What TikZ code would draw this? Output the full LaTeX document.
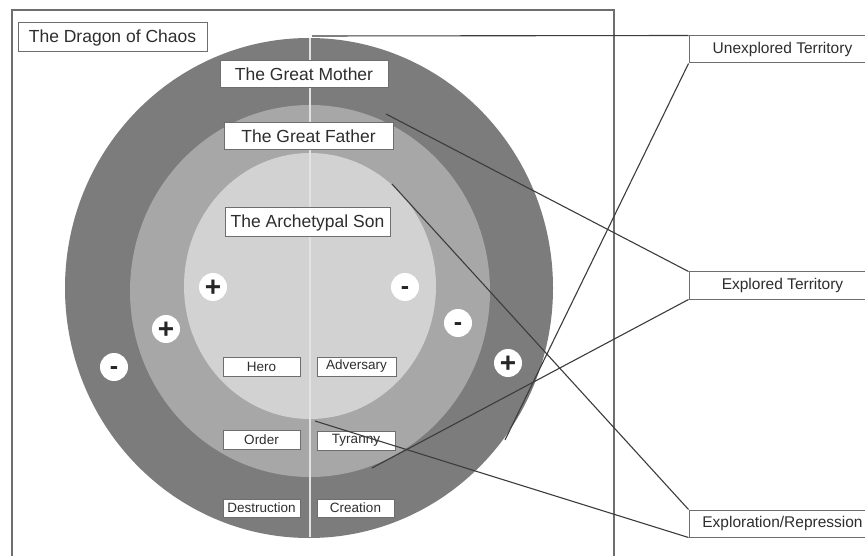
\documentclass[tikz,border=0pt]{standalone}
\usepackage{fontspec}
\setmainfont{Liberation Sans}
\definecolor{ringA}{HTML}{7C7C7C}
\definecolor{ringB}{HTML}{A7A7A7}
\definecolor{ringC}{HTML}{D2D2D2}
\definecolor{divider}{HTML}{E2E2E2}
\definecolor{framec}{HTML}{6E6E6E}
\definecolor{linec}{HTML}{3C3C3C}
\definecolor{txt}{HTML}{2E2E2E}
\tikzset{
  bigbox/.style={draw=framec, line width=1pt, fill=white, text=txt, inner sep=0pt, font=\fontsize{17.5}{20}\selectfont},
  smallbox/.style={draw=framec, line width=0.9pt, fill=white, text=txt, inner sep=0pt, minimum width=78pt, minimum height=19pt, font=\fontsize{13.5}{15}\selectfont},
  sidebox/.style={draw=framec, line width=1pt, fill=white, text=txt, inner sep=0pt, minimum width=187pt, minimum height=27pt, font=\fontsize{15.5}{18}\selectfont},
  sign/.style={circle, fill=white, inner sep=0pt, minimum size=28pt, text=black!85},
  signP/.style={sign, text height=18pt, text depth=0pt, font=\bfseries\fontsize{28}{28}\selectfont},
  signM/.style={sign, text height=14.5pt, text depth=0pt, font=\bfseries\fontsize{25}{25}\selectfont},
  conn/.style={draw=linec, line width=1.1pt}
}
\begin{document}
\begin{tikzpicture}[x=1pt,y=-1pt]
\useasboundingbox (0,0) rectangle (865,556);
\clip (0,0) rectangle (865,556);
\fill[white] (0,0) rectangle (865,556);
% frame
\draw[framec, line width=1.3pt] (12,560) -- (12,10) -- (614,10) -- (614,560);
% rings
\fill[ringA] (309,288) ellipse [x radius=244, y radius=250];
\fill[ringB] (310,291) ellipse [x radius=180, y radius=186];
\fill[ringC] (310,286) ellipse [x radius=126, y radius=133];
\draw[divider, line width=2.5pt] (310,38) -- (310,537);
% labels
\node[bigbox, minimum width=189pt, minimum height=29pt] (dragon) at (112.5,37.5) {The Dragon of Chaos};
\node[bigbox, minimum width=168pt, minimum height=27pt] (mother) at (304,74.5) {The Great Mother};
\node[bigbox, minimum width=169pt, minimum height=27pt] (father) at (308.5,136.5) {The Great Father};
\node[bigbox, minimum width=165pt, minimum height=29pt] (son) at (307.5,222.5) {The Archetypal Son};
\node[smallbox, minimum width=77pt] (hero) at (261.5,366.5) {Hero};
\node[smallbox, minimum width=79pt] (adversary) at (356.5,366.5) {Adversary};
\node[smallbox, minimum width=77pt] (order) at (261.5,440) {Order};
\node[smallbox] (tyranny) at (356,440.5) {Tyranny};
\node[smallbox, minimum width=77pt, minimum height=18pt] (destruction) at (261.5,508) {Destruction};
\node[smallbox, minimum width=77pt, minimum height=18pt] (creation) at (355.5,508) {Creation};
% signs
\node[signP] (s1) at (213,287) {+};
\node[signM] (s2) at (405,287) {-};
\node[signP] (s3) at (166,329) {+};
\node[signM] (s4) at (458,323) {-};
\node[signM] (s5) at (114,367) {-};
\node[signP] (s6) at (508,363) {+};
% side boxes
\node[sidebox] (unexplored) at (782.5,49.5) {Unexplored Territory};
\node[sidebox] (explored) at (782.5,285.5) {Explored Territory};
\node[sidebox] (exploration) at (782.5,523.5) {Exploration/Repression};
% connector endpoints
\coordinate (topV) at (312,36);
\coordinate (outerE) at (505,440);
\coordinate (fatherE) at (386,114);
\coordinate (tyrE) at (372,468);
\coordinate (sonE) at (392,184);
\coordinate (sonB) at (315,421);
\draw[conn] (topV) -- (unexplored.north west);
\draw[conn] (unexplored.south west) -- (outerE);
\draw[conn] (fatherE) -- (explored.north west);
\draw[conn] (explored.south west) -- (tyrE);
\draw[conn] (sonE) -- (exploration.north west);
\draw[conn] (exploration.south west) -- (sonB);
\end{tikzpicture}
\end{document}
